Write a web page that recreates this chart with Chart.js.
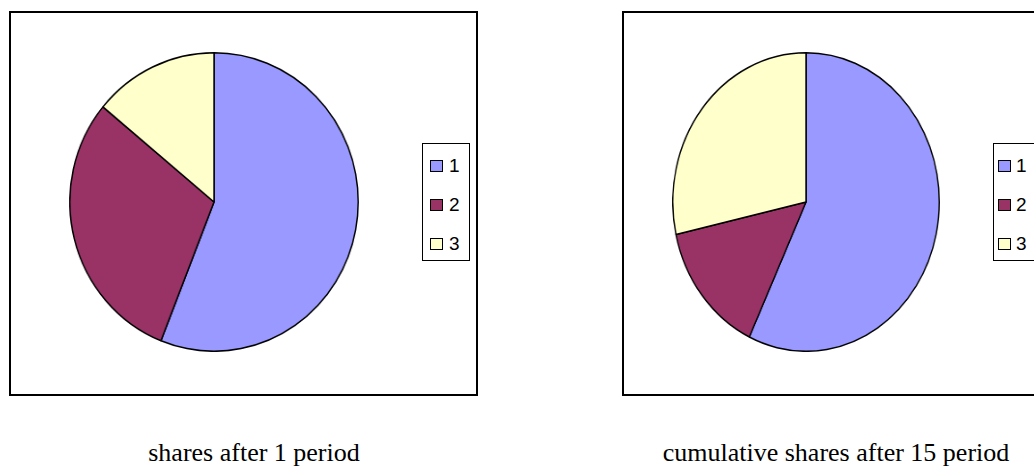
<!DOCTYPE html>
<html>
<head>
<meta charset="utf-8">
<script src="https://cdn.jsdelivr.net/npm/chart.js@4/dist/chart.umd.min.js"></script>
<style>
  body { margin: 0; background: #fff; width: 1034px; height: 468px; overflow: hidden; position: relative; }
  .frame { position: absolute; border: 2px solid #000; box-sizing: border-box; }
  .pie { position: absolute; width: 300px; height: 300px; transform-origin: 150px 150px; }
  .legend { position: absolute; border: 1px solid #000; box-sizing: border-box; background: #fff;
            font-family: "Liberation Sans", Arial, sans-serif; font-size: 19px; padding-top: 2px; }
  .legend .row { height: 39px; display: flex; align-items: center; line-height: 1; }
  .legend .sw { width: 13px; height: 12px; border: 1px solid #000; box-sizing: border-box; }
  .caption { position: absolute; font-family: "Liberation Serif", "Times New Roman", serif;
             font-size: 26px; line-height: 1; text-align: center; white-space: nowrap; }
</style>
</head>
<body>

<div class="frame" style="left:9px; top:11px; width:469px; height:385px;"></div>
<div class="frame" style="left:622px; top:11px; width:430px; height:385px;"></div>

<div class="pie" id="pieLeft" style="left:64px; top:52px; transform:scaleX(0.966);">
  <canvas id="chartLeft" width="300" height="300"></canvas>
</div>
<div class="pie" id="pieRight" style="left:656px; top:52px; transform:scaleX(0.893);">
  <canvas id="chartRight" width="300" height="300"></canvas>
</div>

<div class="legend" id="legendLeft" style="left:422px; top:143px; width:48px; height:118px;"></div>
<div class="legend" id="legendRight" style="left:993px; top:143px; width:60px; height:118px;"></div>

<div class="caption" style="left:104px; top:440px; width:300px;">shares after 1 period</div>
<div class="caption" style="left:636px; top:440px; width:400px;">cumulative shares after 15 period</div>

<script>
  'use strict';

  // categories
  var labels = ['1', '2', '3'];

  // shares after 1 period
  var sharesFirst = [0.56, 0.30, 0.14];

  // cumulative shares after 15 periods
  var sharesCumulative = [0.57, 0.145, 0.285];

  var colors = ['#9999FF', '#993366', '#FFFFCC'];

  /**
   * draw one pie
   * @param id
   * @param data
   */
  function drawPie(id, data) {
    var ctx = document.getElementById(id).getContext('2d');
    return new Chart(ctx, {
      type: 'pie',
      data: {
        labels: labels,
        datasets: [{
          data: data,
          backgroundColor: colors,
          borderColor: '#000',
          borderWidth: 1.5
        }]
      },
      options: {
        responsive: false,
        animation: false,
        layout: { padding: 0 },
        plugins: {
          legend: { display: false },
          tooltip: { enabled: false }
        }
      }
    });
  }

  /**
   * build the boxed legend next to a pie
   * @param id
   * @param swatchMargin
   * @param gap
   */
  function buildLegend(id, swatchMargin, gap) {
    var box = document.getElementById(id);
    labels.forEach(function (label, i) {
      var row = document.createElement('div');
      row.className = 'row';
      var sw = document.createElement('div');
      sw.className = 'sw';
      sw.style.background = colors[i];
      sw.style.marginLeft = swatchMargin + 'px';
      sw.style.marginRight = gap + 'px';
      var txt = document.createElement('span');
      txt.textContent = label;
      row.appendChild(sw);
      row.appendChild(txt);
      box.appendChild(row);
    });
  }

  drawPie('chartLeft', sharesFirst);
  drawPie('chartRight', sharesCumulative);
  buildLegend('legendLeft', 7, 6);
  buildLegend('legendRight', 4, 5);
</script>
</body>
</html>
